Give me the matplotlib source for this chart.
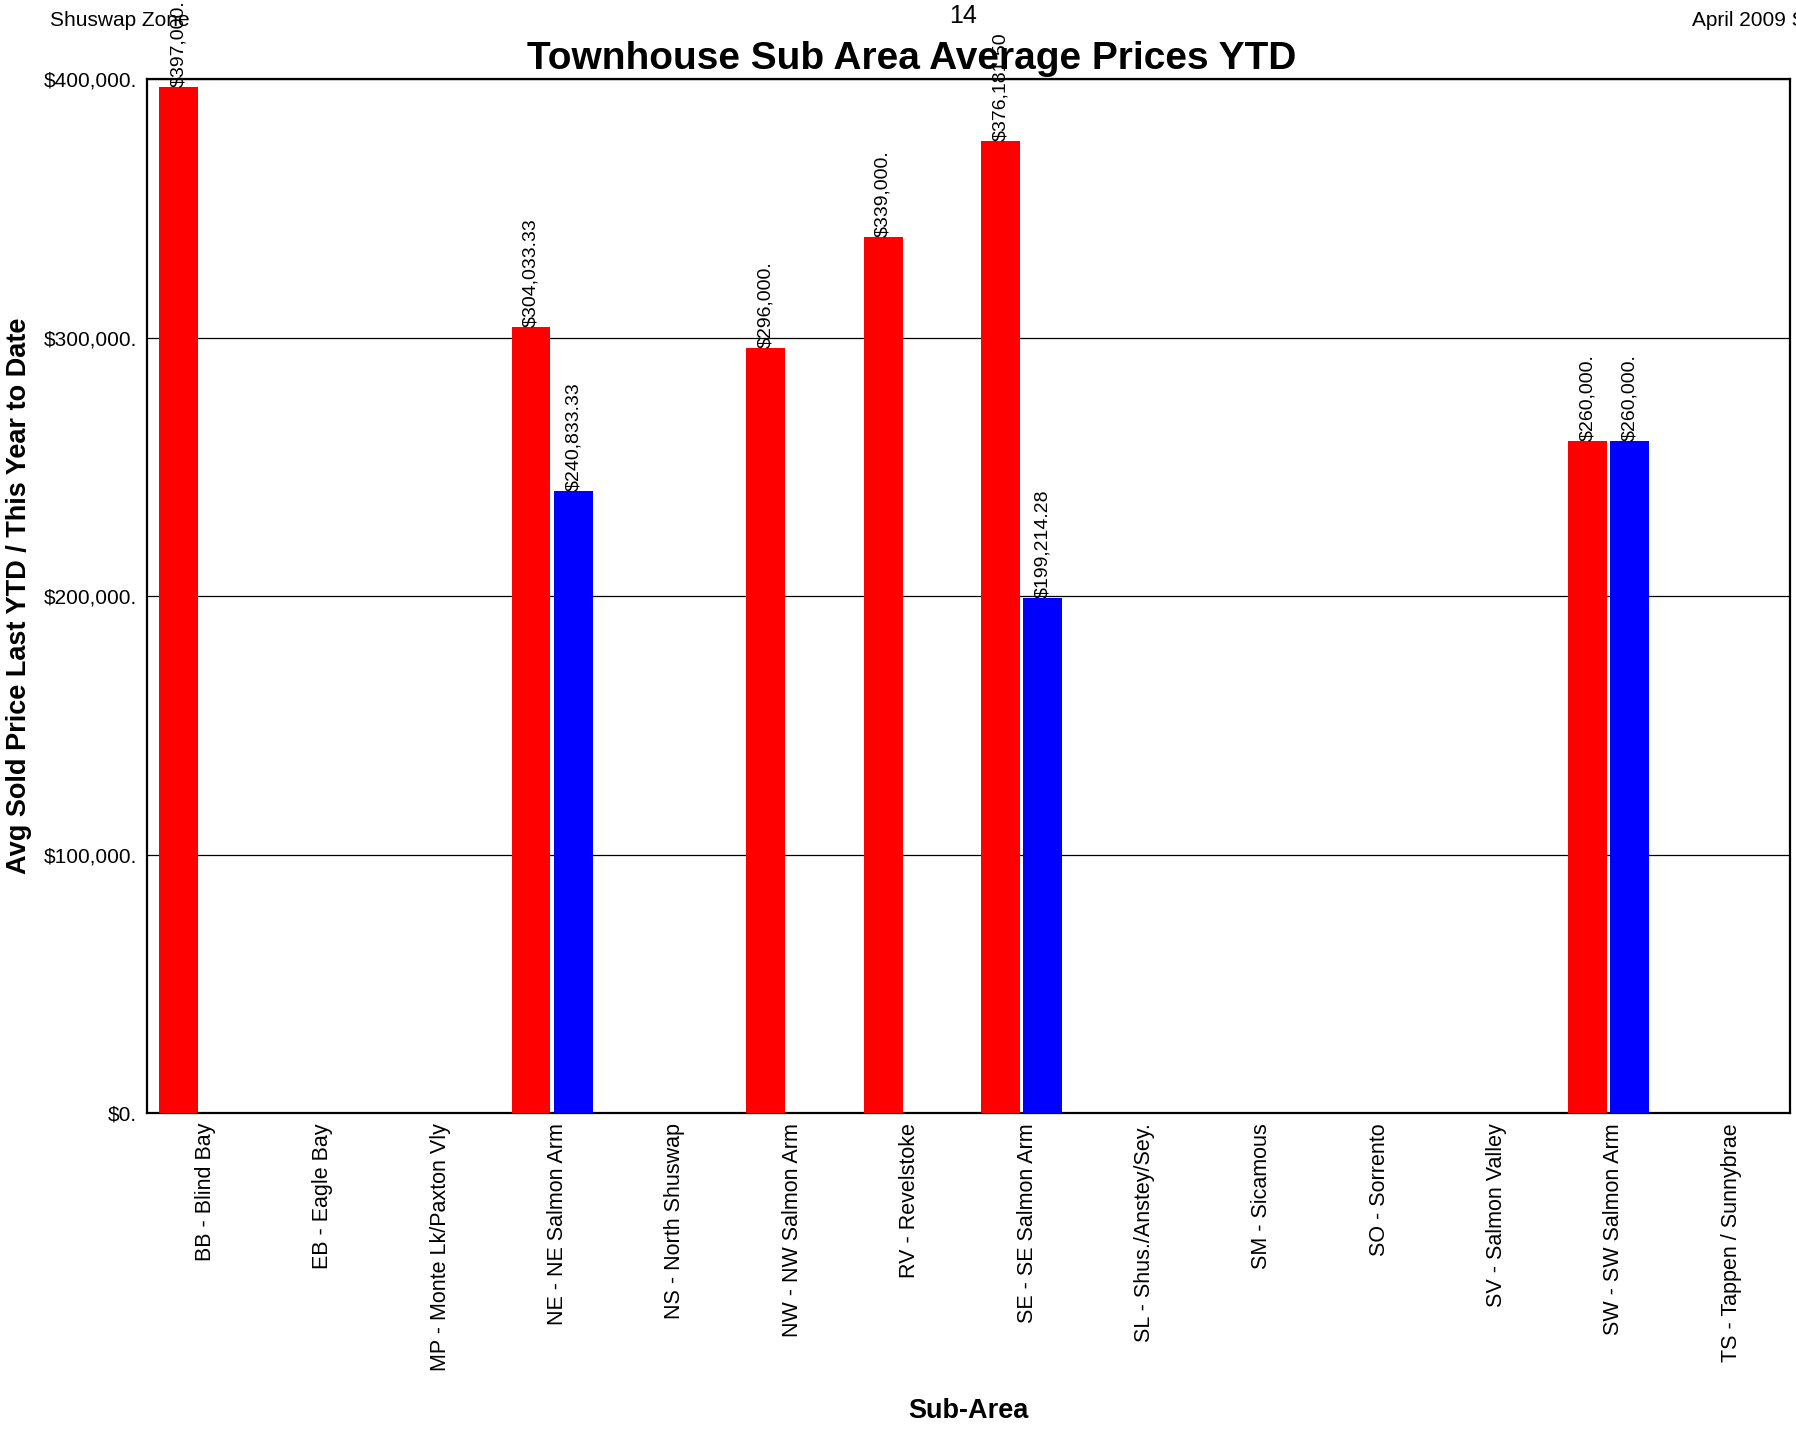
import numpy as np
import matplotlib.pyplot as plt

plt.rcParams['font.family'] = ['Liberation Sans', 'DejaVu Sans']

areas = ["BB - Blind Bay", "EB - Eagle Bay", "MP - Monte Lk/Paxton Vly",
         "NE - NE Salmon Arm", "NS - North Shuswap", "NW - NW Salmon Arm",
         "RV - Revelstoke", "SE - SE Salmon Arm", "SL - Shus./Anstey/Sey.",
         "SM - Sicamous", "SO - Sorrento", "SV - Salmon Valley",
         "SW - SW Salmon Arm", "TS - Tappen / Sunnybrae"]
# None = no sales in that sub-area
last_ytd = [397000, None, None, 304033.33, None, 296000, 339000, 376181.50,
            None, None, None, None, 260000, None]
this_ytd = [None, None, None, 240833.33, None, None, None, 199214.28,
            None, None, None, None, 260000, None]
last_lbl = ["$397,000.", "", "", "$304,033.33", "", "$296,000.", "$339,000.",
            "$376,181.50", "", "", "", "", "$260,000.", ""]
this_lbl = ["", "", "", "$240,833.33", "", "", "", "$199,214.28",
            "", "", "", "", "$260,000.", ""]
yticks = [0, 100000, 200000, 300000, 400000]
ytick_lbl = ["$0.", "$100,000.", "$200,000.", "$300,000.", "$400,000."]

fig = plt.figure(figsize=(17.96, 14.32), dpi=100)
ax = fig.add_axes([0.0816, 0.2225, 0.9151, 0.7223])

x = np.arange(len(areas))
w = 0.33
for i in range(len(areas)):
    if last_ytd[i] is not None:
        ax.bar(x[i] - 0.225, last_ytd[i], w, color="#ff0000", zorder=3)
        ax.text(x[i] - 0.225, last_ytd[i], last_lbl[i], rotation=90,
                ha="center", va="bottom", fontsize=14, clip_on=False)
    if this_ytd[i] is not None:
        ax.bar(x[i] + 0.135, this_ytd[i], w, color="#0000ff", zorder=3)
        ax.text(x[i] + 0.135, this_ytd[i], this_lbl[i], rotation=90,
                ha="center", va="bottom", fontsize=14, clip_on=False)

ax.set_xlim(-0.5, len(areas) - 0.5)
ax.set_ylim(0, 400000)
ax.set_yticks(yticks)
ax.set_yticklabels(ytick_lbl, fontsize=15)
ax.set_xticks(x)
ax.set_xticklabels(areas, rotation=90, fontsize=15.5, va="top", ha="center")
ax.tick_params(length=0, pad=7)
ax.yaxis.grid(True, color="black", linewidth=0.9, zorder=0)
for s in ax.spines.values():
    s.set_linewidth(1.6)

fig.text(0.5075, 0.959, "Townhouse Sub Area Average Prices YTD",
         ha="center", va="center", fontsize=28, fontweight="bold")
fig.text(0.028, 0.9855, "Shuswap Zone", ha="left", va="center", fontsize=15)
fig.text(0.536, 0.9885, "14", ha="center", va="center", fontsize=18)
fig.text(0.942, 0.9855, "April 2009 Summary", ha="left", va="center", fontsize=15)
fig.text(0.0105, 0.584, "Avg Sold Price Last YTD / This Year to Date",
         rotation=90, ha="center", va="center", fontsize=19.5, fontweight="bold")
fig.text(0.539, 0.0145, "Sub-Area", ha="center", va="center",
         fontsize=19.5, fontweight="bold")

fig.savefig("out.png", dpi=100)
